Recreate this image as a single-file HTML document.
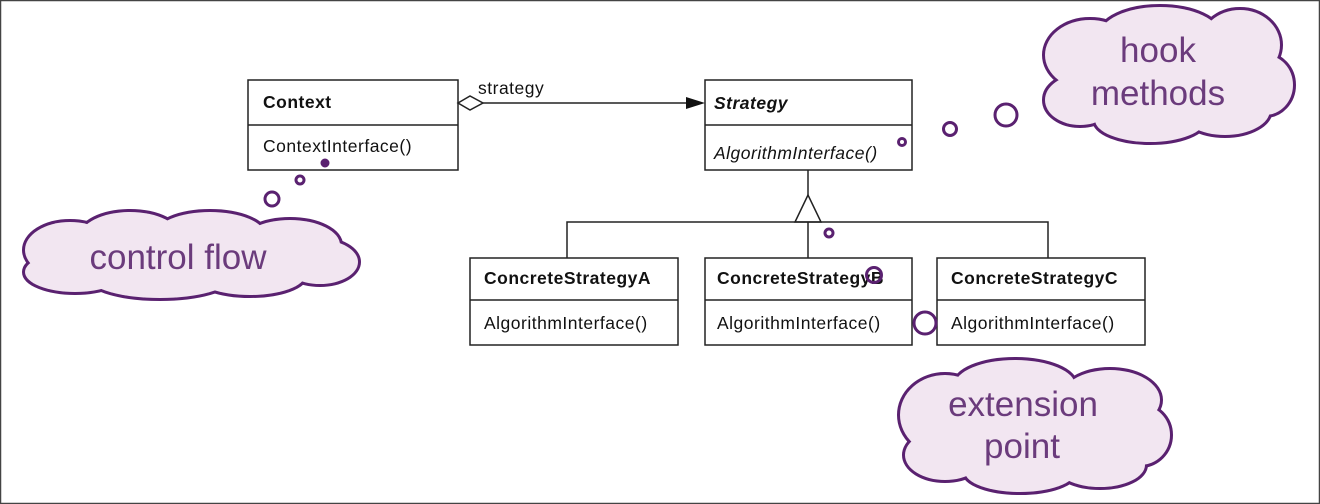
<!DOCTYPE html>
<html><head><meta charset="utf-8"><style>
html,body{margin:0;padding:0;background:#fff}
svg{display:block}
.t{font-family:"Liberation Sans",Arial,sans-serif;font-size:17.5px;letter-spacing:0.5px;fill:#111}
.b{font-weight:bold}
.c{font-family:"Liberation Sans",Arial,sans-serif;font-size:35px;fill:#6b3b7c;text-anchor:middle}
</style></head><body>
<svg width="1320" height="504" viewBox="0 0 1320 504">
<rect x="0.5" y="0.5" width="1319" height="503" fill="#fff" stroke="#444" stroke-width="1.5"/>
<g fill="#fff" stroke="#222" stroke-width="1.5">
<rect x="248" y="80" width="210" height="90"/><line x1="248" y1="125" x2="458" y2="125"/>
<rect x="705" y="80" width="207" height="90"/><line x1="705" y1="125" x2="912" y2="125"/>
<rect x="470" y="258" width="208" height="87"/><line x1="470" y1="300" x2="678" y2="300"/>
<rect x="705" y="258" width="207" height="87"/><line x1="705" y1="300" x2="912" y2="300"/>
<rect x="937" y="258" width="208" height="87"/><line x1="937" y1="300" x2="1145" y2="300"/>
</g>
<g stroke="#222" stroke-width="1.5" fill="none">
<line x1="483" y1="103" x2="700" y2="103"/>
<polygon points="458,103 470,96 483,103 470,110" fill="#fff"/>
<line x1="808" y1="170" x2="808" y2="195"/>
<polygon points="808,195 795,222 821,222" fill="#fff"/>
<line x1="808" y1="222" x2="808" y2="258"/>
<polyline points="567,258 567,222 1048,222 1048,258"/>
</g>
<polygon points="686,97 705,103 686,109" fill="#111"/>
<text class="t" x="478" y="94">strategy</text>
<text class="t b" x="263" y="108">Context</text>
<text class="t" x="263" y="152">ContextInterface()</text>
<text class="t b" x="714" y="109" font-style="italic">Strategy</text>
<text class="t" x="714" y="159" font-style="italic">AlgorithmInterface()</text>
<text class="t b" x="484" y="284">ConcreteStrategyA</text>
<text class="t" x="484" y="329">AlgorithmInterface()</text>
<text class="t b" x="717" y="284">ConcreteStrategyB</text>
<text class="t" x="717" y="329">AlgorithmInterface()</text>
<text class="t b" x="951" y="284">ConcreteStrategyC</text>
<text class="t" x="951" y="329">AlgorithmInterface()</text>
<g stroke="#5a2170" stroke-width="3" fill="none">
<circle cx="325" cy="163" r="3" fill="#5a2170"/>
<circle cx="300" cy="180" r="4"/>
<circle cx="272" cy="199" r="7"/>
<circle cx="902" cy="142" r="3.5"/>
<circle cx="950" cy="129" r="6.5"/>
<circle cx="1006" cy="115" r="11"/>
<circle cx="829" cy="233" r="4"/>
<circle cx="874" cy="275" r="7.5"/>
<circle cx="925" cy="323" r="11"/>
</g>
<g stroke="#5a2170" stroke-width="6" fill="#5a2170">
<ellipse cx="70" cy="250" rx="45" ry="28"/><ellipse cx="130" cy="237" rx="50" ry="25"/><ellipse cx="210" cy="235" rx="55" ry="23"/><ellipse cx="290" cy="245" rx="50" ry="25"/><ellipse cx="320" cy="262" rx="38" ry="22"/><ellipse cx="250" cy="275" rx="55" ry="20"/><ellipse cx="160" cy="278" rx="70" ry="20"/><ellipse cx="75" cy="272" rx="50" ry="20"/>
<ellipse cx="1090" cy="55" rx="45" ry="35"/><ellipse cx="1160" cy="35" rx="60" ry="28"/><ellipse cx="1240" cy="45" rx="40" ry="35"/><ellipse cx="1265" cy="85" rx="28" ry="30"/><ellipse cx="1225" cy="110" rx="45" ry="25"/><ellipse cx="1150" cy="120" rx="55" ry="22"/><ellipse cx="1080" cy="100" rx="35" ry="25"/>
<ellipse cx="945" cy="415" rx="45" ry="40"/><ellipse cx="1015" cy="385" rx="60" ry="25"/><ellipse cx="1110" cy="400" rx="50" ry="30"/><ellipse cx="1140" cy="435" rx="30" ry="30"/><ellipse cx="1100" cy="465" rx="45" ry="22"/><ellipse cx="1020" cy="472" rx="55" ry="20"/><ellipse cx="945" cy="455" rx="40" ry="25"/>
</g>
<g fill="#f2e6f1">
<ellipse cx="70" cy="250" rx="45" ry="28"/><ellipse cx="130" cy="237" rx="50" ry="25"/><ellipse cx="210" cy="235" rx="55" ry="23"/><ellipse cx="290" cy="245" rx="50" ry="25"/><ellipse cx="320" cy="262" rx="38" ry="22"/><ellipse cx="250" cy="275" rx="55" ry="20"/><ellipse cx="160" cy="278" rx="70" ry="20"/><ellipse cx="75" cy="272" rx="50" ry="20"/>
<ellipse cx="180" cy="258" rx="140" ry="28"/>
<ellipse cx="1090" cy="55" rx="45" ry="35"/><ellipse cx="1160" cy="35" rx="60" ry="28"/><ellipse cx="1240" cy="45" rx="40" ry="35"/><ellipse cx="1265" cy="85" rx="28" ry="30"/><ellipse cx="1225" cy="110" rx="45" ry="25"/><ellipse cx="1150" cy="120" rx="55" ry="22"/><ellipse cx="1080" cy="100" rx="35" ry="25"/>
<ellipse cx="1165" cy="75" rx="95" ry="48"/>
<ellipse cx="945" cy="415" rx="45" ry="40"/><ellipse cx="1015" cy="385" rx="60" ry="25"/><ellipse cx="1110" cy="400" rx="50" ry="30"/><ellipse cx="1140" cy="435" rx="30" ry="30"/><ellipse cx="1100" cy="465" rx="45" ry="22"/><ellipse cx="1020" cy="472" rx="55" ry="20"/><ellipse cx="945" cy="455" rx="40" ry="25"/>
<ellipse cx="1035" cy="428" rx="100" ry="52"/>
</g>
<text class="c" x="178" y="269">control flow</text>
<text class="c" x="1158" y="62">hook</text>
<text class="c" x="1158" y="105">methods</text>
<text class="c" x="1023" y="416">extension</text>
<text class="c" x="1022" y="458">point</text>
</svg>
</body></html>
